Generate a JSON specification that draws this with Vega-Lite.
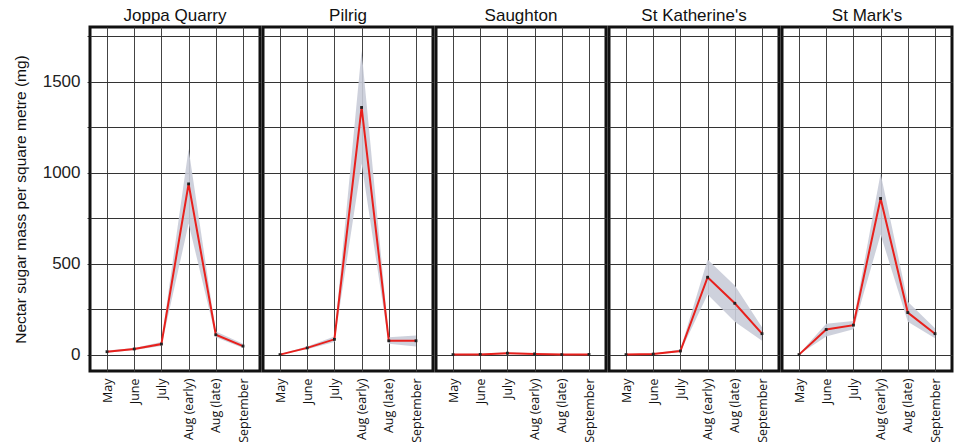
{
  "$schema": "https://vega.github.io/schema/vega-lite/v6.json",
  "padding": {"left": 13, "top": 7, "right": 0, "bottom": 0},
  "background": "white",
  "bounds": "flush",
  "data": {"values": [
    {"site": "Joppa Quarry", "month": "May", "value": 16, "lo": 10, "hi": 22},
    {"site": "Joppa Quarry", "month": "June", "value": 31, "lo": 25, "hi": 37},
    {"site": "Joppa Quarry", "month": "July", "value": 58, "lo": 48, "hi": 70},
    {"site": "Joppa Quarry", "month": "Aug (early)", "value": 938, "lo": 720, "hi": 1130},
    {"site": "Joppa Quarry", "month": "Aug (late)", "value": 109, "lo": 95, "hi": 127},
    {"site": "Joppa Quarry", "month": "September", "value": 47, "lo": 37, "hi": 60},
    {"site": "Pilrig", "month": "May", "value": 0, "lo": 0, "hi": 3},
    {"site": "Pilrig", "month": "June", "value": 37, "lo": 30, "hi": 45},
    {"site": "Pilrig", "month": "July", "value": 84, "lo": 70, "hi": 100},
    {"site": "Pilrig", "month": "Aug (early)", "value": 1358, "lo": 1050, "hi": 1668},
    {"site": "Pilrig", "month": "Aug (late)", "value": 76, "lo": 60, "hi": 95},
    {"site": "Pilrig", "month": "September", "value": 76, "lo": 45, "hi": 105},
    {"site": "Saughton", "month": "May", "value": 0, "lo": -3, "hi": 3},
    {"site": "Saughton", "month": "June", "value": 1, "lo": -3, "hi": 5},
    {"site": "Saughton", "month": "July", "value": 8, "lo": 3, "hi": 13},
    {"site": "Saughton", "month": "Aug (early)", "value": 4, "lo": 0, "hi": 8},
    {"site": "Saughton", "month": "Aug (late)", "value": 0, "lo": -3, "hi": 3},
    {"site": "Saughton", "month": "September", "value": 1, "lo": -2, "hi": 4},
    {"site": "St Katherine's", "month": "May", "value": 0, "lo": 0, "hi": 2},
    {"site": "St Katherine's", "month": "June", "value": 3, "lo": 0, "hi": 6},
    {"site": "St Katherine's", "month": "July", "value": 20, "lo": 14, "hi": 28},
    {"site": "St Katherine's", "month": "Aug (early)", "value": 425, "lo": 330, "hi": 522},
    {"site": "St Katherine's", "month": "Aug (late)", "value": 282, "lo": 180, "hi": 380},
    {"site": "St Katherine's", "month": "September", "value": 115, "lo": 76, "hi": 150},
    {"site": "St Mark's", "month": "May", "value": 0, "lo": 0, "hi": 3},
    {"site": "St Mark's", "month": "June", "value": 138, "lo": 100, "hi": 170},
    {"site": "St Mark's", "month": "July", "value": 162, "lo": 140, "hi": 185},
    {"site": "St Mark's", "month": "Aug (early)", "value": 858, "lo": 660, "hi": 995},
    {"site": "St Mark's", "month": "Aug (late)", "value": 231, "lo": 180, "hi": 290},
    {"site": "St Mark's", "month": "September", "value": 115, "lo": 90, "hi": 145}
  ]},
  "facet": {
    "column": {
      "field": "site",
      "type": "nominal",
      "title": null,
      "header": {"labelFont": "Liberation Sans", "labelFontSize": 17, "labelColor": "#111", "labelPadding": 2}
    }
  },
  "spacing": 3,
  "spec": {
    "width": 170,
    "height": 344,
    "encoding": {
      "x": {
        "field": "month", "type": "ordinal",
        "sort": ["May", "June", "July", "Aug (early)", "Aug (late)", "September"],
        "scale": {"type": "point", "padding": 0.625},
        "axis": {
          "title": null, "labelAngle": -90, "labelFont": "Open Sans", "labelFontSize": 12.5,
          "labelColor": "#111", "domain": false, "ticks": false, "labelPadding": 7,
          "grid": true, "gridColor": "#444", "gridWidth": 1
        }
      }
    },
    "layer": [
      {
        "mark": {"type": "area", "color": "#c9ccd8", "opacity": 0.9},
        "encoding": {
          "y": {"field": "lo", "type": "quantitative"},
          "y2": {"field": "hi"}
        }
      },
      {
        "mark": {"type": "line", "color": "#e8201c", "strokeWidth": 2},
        "encoding": {
          "y": {
            "field": "value", "type": "quantitative",
            "scale": {"domain": [-90, 1800], "nice": false, "zero": false},
            "axis": {
              "title": "Nectar sugar mass per square metre (mg)",
              "titleFont": "Liberation Sans", "titleFontSize": 15.5, "titleFontWeight": "normal",
              "titleColor": "#111", "titlePadding": 14,
              "labelFont": "Liberation Sans", "labelFontSize": 17, "labelColor": "#222",
              "values": [0, 250, 500, 750, 1000, 1250, 1500, 1750],
              "format": "d",
              "labelExpr": "datum.value % 500 == 0 ? datum.label : ''",
              "domain": false, "tickSize": 3, "tickColor": "#444", "labelPadding": 7,
              "grid": true, "gridColor": "#333", "gridWidth": 1
            }
          }
        }
      },
      {
        "mark": {"type": "point", "shape": "square", "filled": true, "color": "#222", "size": 8, "opacity": 1},
        "encoding": {"y": {"field": "value", "type": "quantitative"}}
      }
    ]
  },
  "resolve": {"scale": {"y": "shared"}},
  "config": {
    "view": {"stroke": "#111", "strokeWidth": 3},
    "axis": {"labelFlush": false}
  }
}
